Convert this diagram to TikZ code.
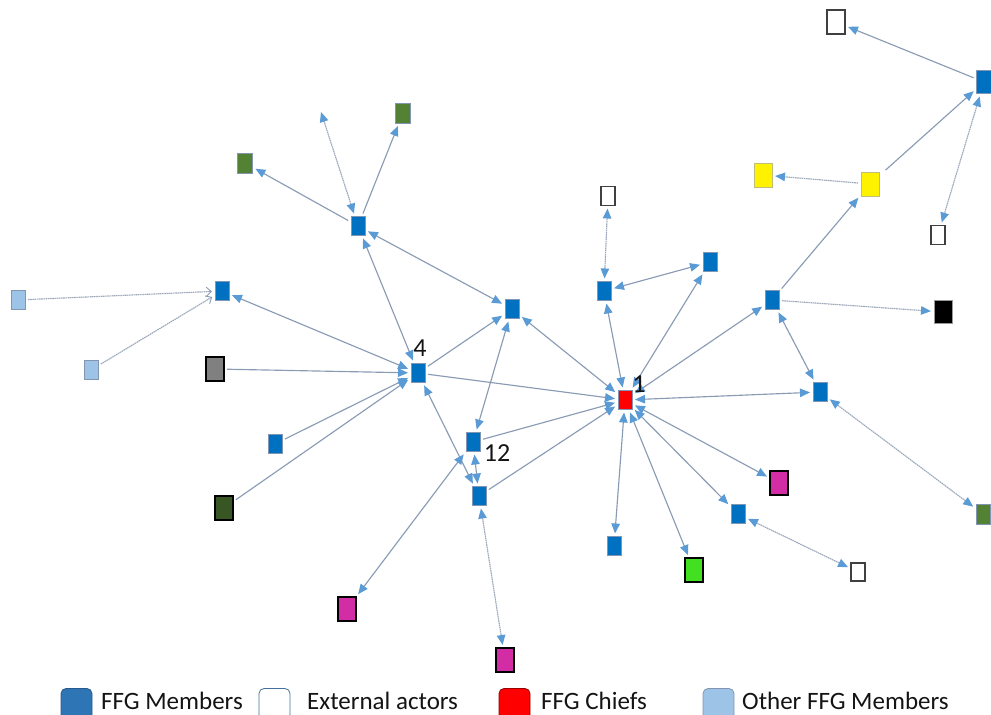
\documentclass[tikz,border=0pt]{standalone}
\usepackage{fontspec}
\setmainfont{Carlito}
\usetikzlibrary{arrows.meta}
\definecolor{memblue}{RGB}{0,112,192}
\definecolor{nodeedge}{RGB}{130,150,180}
\definecolor{linec}{RGB}{138,156,180}
\definecolor{faintc}{RGB}{158,170,188}
\definecolor{tipc}{RGB}{91,155,213}
\definecolor{olive}{RGB}{84,130,53}
\definecolor{darkgreen}{RGB}{55,86,35}
\definecolor{magenta1}{RGB}{210,45,165}
\definecolor{brightgreen}{RGB}{66,224,32}
\definecolor{lightblue}{RGB}{157,195,230}
\definecolor{legblue}{RGB}{46,117,182}
\definecolor{legblueb}{RGB}{40,90,140}
\definecolor{legwhiteb}{RGB}{65,113,156}
\definecolor{yellowb}{RGB}{190,190,120}
\definecolor{txtc}{RGB}{20,20,20}
\begin{document}
\begin{tikzpicture}[x=1pt,y=-1pt,
  >={Triangle[length=10pt,width=8.5pt,color=tipc]},
  box/.style={rectangle, inner sep=0pt, outer sep=2pt},
  mem/.style={box, fill=memblue, draw=nodeedge, line width=0.6pt, minimum width=14pt, minimum height=19pt},
  chief/.style={box, fill=red, draw=nodeedge, line width=0.6pt, minimum width=14pt, minimum height=19pt},
  other/.style={box, fill=lightblue, draw=nodeedge, line width=0.6pt, minimum width=14pt, minimum height=19pt},
  ext/.style={box, fill=white, draw=black!75, line width=1.2pt, minimum width=14pt, minimum height=19pt},
  extbig/.style={ext, minimum width=18pt, minimum height=24pt},
  olivebox/.style={box, fill=olive, draw=nodeedge, line width=0.9pt, minimum width=15pt, minimum height=20pt},
  bigbox/.style={box, draw=black, line width=1.3pt, minimum width=18pt, minimum height=24pt},
  yelbox/.style={box, fill=yellow, draw=yellowb, line width=0.8pt, minimum width=18pt, minimum height=24pt},
  e/.style={draw=linec, line width=1.15pt, shorten >=1pt, shorten <=1pt},
  fe/.style={draw=faintc, line width=1.15pt, dash pattern=on 1.6pt off 0.6pt, shorten >=1pt, shorten <=1pt},
  openarr/.style={-{Straight Barb[length=5pt,width=9pt,color=linec,line width=0.9pt]}},
  lbl/.style={font=\fontsize{26}{30}\selectfont, text=txtc, inner sep=0pt},
  legbox/.style={rectangle, rounded corners=5pt, minimum width=31pt, minimum height=31pt, line width=0.8pt, inner sep=0pt},
  legtxt/.style={font=\fontsize{25}{30}\selectfont, text=txtc, anchor=base west, inner sep=0pt}
]
\useasboundingbox (0,0) rectangle (991,715);
\clip (0,0) rectangle (991,715);

% nodes
\node[chief] (c1) at (625,400) {};
\node[mem] (n4) at (418,373) {};
\node[mem] (n12) at (473,442) {};
\node[mem] (n12b) at (479,496) {};
\node[mem] (nmid) at (512,309) {};
\node[mem] (n603) at (604,291) {};
\node[mem] (n709) at (710,262) {};
\node[mem] (ntop) at (358,226) {};
\node[mem] (nleft) at (222,291) {};
\node[mem] (sb) at (275,444) {};
\node[mem] (n772) at (772,300) {};
\node[mem] (n819) at (820,392) {};
\node[mem] (n738) at (738,514) {};
\node[mem] (n614) at (614,546) {};
\node[mem, minimum width=15pt, minimum height=23pt] (n983) at (984,82) {};
\node[other] (lb1) at (18,300) {};
\node[other] (lb2) at (91,370) {};
\node[ext] (w1) at (608,196) {};
\node[ext] (w3) at (938,235) {};
\node[ext, minimum height=18pt] (w4) at (858,572) {};
\node[extbig] (w2) at (836,22) {};
\node[olivebox] (g1) at (245,163) {};
\node[olivebox] (g2) at (403,113) {};
\node[olivebox, minimum width=14pt] (g3) at (983,514) {};
\node[bigbox, fill=gray] (gray) at (215,369) {};
\node[bigbox, fill=darkgreen] (dg) at (224,508) {};
\node[bigbox, fill=magenta1] (m1) at (347,609) {};
\node[bigbox, fill=magenta1] (m2) at (505,660) {};
\node[bigbox, fill=magenta1] (m3) at (779,483) {};
\node[bigbox, fill=brightgreen] (gb) at (694,570) {};
\node[bigbox, fill=black, draw=black!40, line width=0.8pt, minimum height=23pt] (blk) at (943,312) {};
\node[yelbox] (y1) at (763,175) {};
\node[yelbox] (y2) at (870,184) {};
\coordinate (ph) at (321,112);

% edges
\draw[e,->] (n983) -- (w2);
\draw[e,->, shorten <=6pt] (y2) -- (n983);
\draw[fe,<->] (n983) -- (w3);
\draw[fe,->] (y2) -- (y1);
\draw[e,->] (n772) -- (y2);
\draw[fe,->] (n772) -- (blk);
\draw[e,<->] (n819) -- (n772);
\draw[e,<->] (c1) -- (n819);
\draw[fe,<->] (n819) -- (g3);
\draw[e,<->] (c1) -- (n709);
\draw[e,<->] (c1) -- (n772);
\draw[e,<->] (n603) -- (n709);
\draw[fe,<->] (n603) -- (w1);
\draw[e,<->] (c1) -- (n603);
\draw[e,<->] (c1) -- (nmid);
\draw[e,->] (n4) -- (c1);
\draw[e,->] (n12) -- (c1);
\draw[e,->] (n12b) -- (c1);
\draw[e,<->] (c1) -- (n614);
\draw[e,<->] (c1) -- (gb);
\draw[e,<->] (c1) -- (n738);
\draw[e,<->] (c1) -- (m3);
\draw[fe,<->] (n738) -- (w4);
\draw[e,->] (n4) -- (nmid);
\draw[e,<->] (n4) -- (n12b);
\draw[e,<->] (nmid) -- (n12);
\draw[e,<->] (n12) -- (n12b);
\draw[e,<->] (m1) -- (n12);
\draw[fe,<->] (n12b) -- (m2);
\draw[e,<->] (ntop) -- (n4);
\draw[e,<->] (ntop) -- (nmid);
\draw[e,->] (ntop) -- (g1);
\draw[e,->] (ntop) -- (g2);
\draw[fe,<->, shorten >=0pt] (ntop) -- (ph);
\draw[e,<->] (nleft) -- (n4);
\draw[fe,openarr] (lb1) -- (nleft);
\draw[fe,openarr] (lb2) -- (nleft);
\draw[e,->] (gray) -- (n4);
\draw[e,->] (sb) -- (n4);
\draw[e,->] (dg) -- (n4);

% labels (drawn over the connectors)
\node[lbl] (l1) at (639,384) {1};
\node[lbl] (l4) at (420,348) {4};
\node[lbl] (l12) at (497,453) {12};

% legend
\node[legbox, fill=legblue, draw=legblueb] (k1) at (76.5,704) {};
\node[legtxt] (t1) at (101,709) {FFG Members};
\node[legbox, fill=white, draw=legwhiteb] (k2) at (274.5,704) {};
\node[legtxt] (t2) at (307,709) {External actors};
\node[legbox, fill=red, draw=red!60!black] (k3) at (514.5,704) {};
\node[legtxt] (t3) at (541,709) {FFG Chiefs};
\node[legbox, fill=lightblue, draw=nodeedge] (k4) at (718.5,704) {};
\node[legtxt] (t4) at (742,709) {Other FFG Members};
\end{tikzpicture}
\end{document}
